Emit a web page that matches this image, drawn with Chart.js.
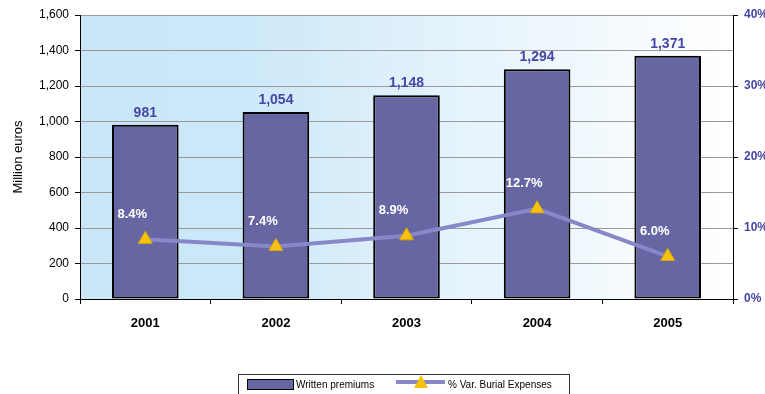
<!DOCTYPE html>
<html>
<head>
<meta charset="utf-8">
<script src="https://cdn.jsdelivr.net/npm/chart.js@4"></script>
<style>
  html, body { margin: 0; padding: 0; background: #fff; }
  #wrap { width: 765px; height: 394px; position: relative; }
</style>
</head>
<body>
<div id="wrap"><canvas id="c" width="765" height="394"></canvas></div>
<script>
// Written premiums (million euros) and year-on-year variation of burial expenses (%)
const years = ['2001', '2002', '2003', '2004', '2005'];
const premiums = [981, 1054, 1148, 1294, 1371];
const burialVar = [8.4, 7.4, 8.9, 12.7, 6.0];
const leftTicks = [0, 200, 400, 600, 800, 1000, 1200, 1400, 1600];
const rightTicks = [0, 10, 20, 30, 40];

const FONT = 'Arial, "Liberation Sans", sans-serif';
const BAR_FILL = '#6667a2';
const LINE_COL = '#8888c9';
const TRI_COL = '#f6c20c';
const LABEL_BLUE = '#4646a6';

// Light-blue to white gradient behind the plot
const bgPlugin = {
  id: 'plotBg',
  beforeDraw(chart) {
    const { ctx, chartArea: a } = chart;
    const g = ctx.createLinearGradient(a.left, 0, a.right, 0);
    g.addColorStop(0, '#c9e7f8');
    g.addColorStop(0.25, '#cce8f8');
    g.addColorStop(0.55, '#e3f2fb');
    g.addColorStop(1, '#ffffff');
    ctx.save();
    ctx.fillStyle = g;
    ctx.fillRect(a.left, a.top, a.right - a.left, a.bottom - a.top);
    ctx.restore();
  }
};

// Value labels and boxed legend
const labelPlugin = {
  id: 'labels',
  afterDatasetsDraw(chart) {
    const { ctx } = chart;
    ctx.save();
    ctx.font = 'bold 14px ' + FONT;
    ctx.textAlign = 'center';
    ctx.textBaseline = 'bottom';
    const barMeta = chart.getDatasetMeta(0);
    barMeta.data.forEach((el, i) => {
      ctx.fillStyle = LABEL_BLUE;
      ctx.fillText(premiums[i].toLocaleString('en-US'), el.x, el.y - 5);
    });
    ctx.font = 'bold 13px ' + FONT;
    const lineMeta = chart.getDatasetMeta(1);
    lineMeta.data.forEach((el, i) => {
      ctx.fillStyle = '#ffffff';
      ctx.textBaseline = 'middle';
      ctx.fillText(burialVar[i].toFixed(1) + '%', el.x - 13, el.y - 25);
    });
    ctx.restore();
  },
  afterDraw(chart) {
    const { ctx } = chart;
    const lx = 238, ly = 374, lw = 331, lh = 22;
    ctx.save();
    ctx.strokeStyle = '#333';
    ctx.lineWidth = 1;
    ctx.strokeRect(lx + 0.5, ly + 0.5, lw, lh);
    // bar swatch
    ctx.fillStyle = BAR_FILL;
    ctx.fillRect(lx + 9, ly + 5, 46, 10);
    ctx.strokeStyle = '#000';
    ctx.strokeRect(lx + 9.5, ly + 5.5, 46, 10);
    ctx.fillStyle = '#000';
    ctx.font = '10px ' + FONT;
    ctx.textBaseline = 'middle';
    ctx.textAlign = 'left';
    ctx.fillText(chart.data.datasets[0].label, lx + 58, ly + 11);
    // line swatch with marker
    ctx.strokeStyle = LINE_COL;
    ctx.lineWidth = 4;
    ctx.beginPath();
    ctx.moveTo(lx + 158, ly + 8);
    ctx.lineTo(lx + 207, ly + 8);
    ctx.stroke();
    ctx.fillStyle = TRI_COL;
    ctx.beginPath();
    ctx.moveTo(lx + 183, ly + 1);
    ctx.lineTo(lx + 190, ly + 14);
    ctx.lineTo(lx + 176, ly + 14);
    ctx.closePath();
    ctx.fill();
    ctx.fillStyle = '#000';
    ctx.fillText(chart.data.datasets[1].label, lx + 210, ly + 11);
    ctx.restore();
  }
};

new Chart(document.getElementById('c'), {
  data: {
    labels: years,
    datasets: [
      {
        type: 'bar',
        label: 'Written premiums',
        data: premiums,
        backgroundColor: BAR_FILL,
        borderColor: '#000',
        borderWidth: 2,
        borderSkipped: false,
        categoryPercentage: 1.0,
        barPercentage: 0.51,
        yAxisID: 'y',
        order: 2
      },
      {
        type: 'line',
        label: '% Var. Burial Expenses',
        data: burialVar,
        borderColor: LINE_COL,
        borderWidth: 4,
        pointStyle: 'triangle',
        pointRadius: 8,
        pointBackgroundColor: TRI_COL,
        pointBorderColor: '#e0a800',
        pointBorderWidth: 1,
        tension: 0,
        yAxisID: 'y1',
        order: 1
      }
    ]
  },
  plugins: [bgPlugin, labelPlugin],
  options: {
    responsive: false,
    animation: false,
    layout: { padding: { top: 15, bottom: 0, left: 0, right: 0 } },
    plugins: { legend: { display: false }, tooltip: { enabled: false } },
    scales: {
      x: {
        offset: true,
        grid: { offset: true, drawOnChartArea: false, color: '#000', tickLength: 5 },
        border: { color: '#000', width: 1 },
        ticks: { color: '#000', font: { family: FONT, size: 13, weight: 'bold' }, padding: 12 },
        afterFit(s) { s.height = 95; }
      },
      y: {
        position: 'left',
        min: 0, max: 1600,
        afterBuildTicks(s) { s.ticks = leftTicks.map(v => ({ value: v })); },
        grid: { color: '#9a9a9a', lineWidth: 1, tickColor: '#000', tickLength: 5 },
        border: { color: '#000', width: 1 },
        ticks: {
          color: '#000', font: { family: FONT, size: 12 }, padding: 6,
          callback: v => v.toLocaleString('en-US')
        },
        title: { display: true, text: 'Million euros', color: '#000', font: { family: FONT, size: 13 }, padding: { top: 11, bottom: 0 } },
        afterFit(s) { s.width = 80; }
      },
      y1: {
        position: 'right',
        min: 0, max: 40,
        afterBuildTicks(s) { s.ticks = rightTicks.map(v => ({ value: v })); },
        grid: { drawOnChartArea: false, color: '#000', tickLength: 5 },
        border: { color: '#000', width: 1 },
        ticks: {
          color: LABEL_BLUE, font: { family: FONT, size: 12, weight: 'bold' }, padding: 6,
          callback: v => v + '%'
        },
        afterFit(s) { s.width = 32; }
      }
    }
  }
});
</script>
</body>
</html>
